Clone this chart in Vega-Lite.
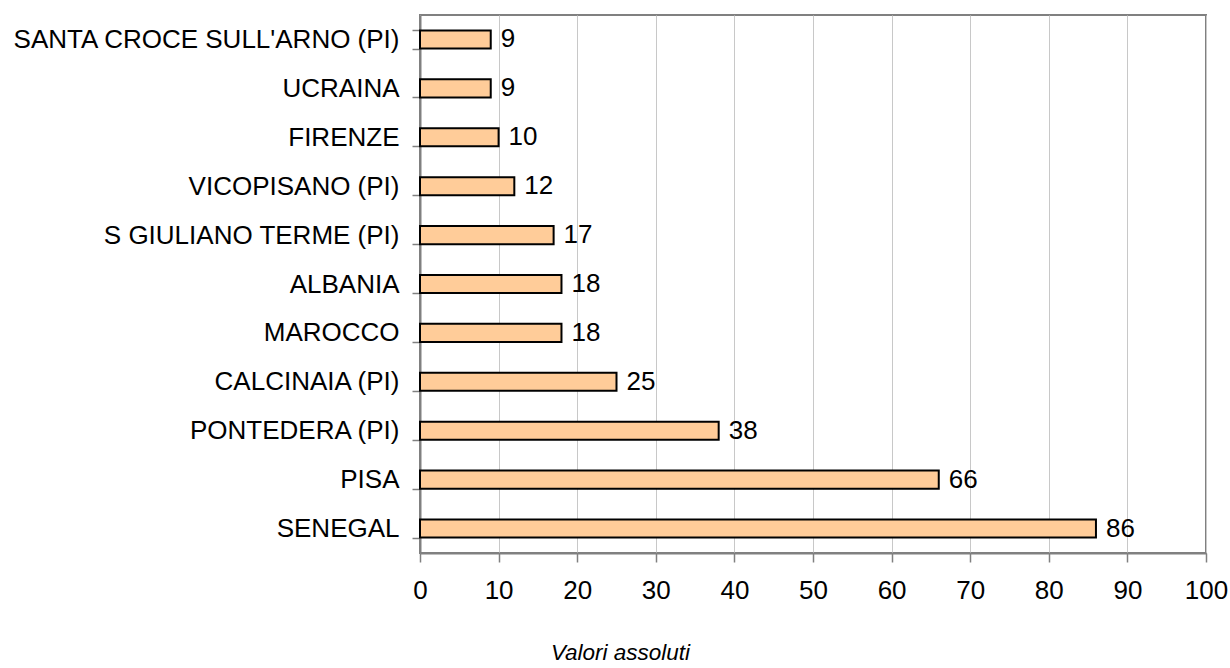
{
  "$schema": "https://vega.github.io/schema/vega-lite/v6.json",
  "autosize": "none",
  "padding": {"left": 420, "top": 15, "right": 24, "bottom": 115},
  "width": 786,
  "height": 538,
  "background": "white",
  "config": {
    "font": "Liberation Sans",
    "view": {"stroke": "#808080", "strokeWidth": 2}
  },
  "data": {
    "values": [
      {"luogo": "SANTA CROCE SULL'ARNO (PI)", "valore": 9},
      {"luogo": "UCRAINA", "valore": 9},
      {"luogo": "FIRENZE", "valore": 10},
      {"luogo": "VICOPISANO (PI)", "valore": 12},
      {"luogo": "S GIULIANO TERME (PI)", "valore": 17},
      {"luogo": "ALBANIA", "valore": 18},
      {"luogo": "MAROCCO", "valore": 18},
      {"luogo": "CALCINAIA (PI)", "valore": 25},
      {"luogo": "PONTEDERA (PI)", "valore": 38},
      {"luogo": "PISA", "valore": 66},
      {"luogo": "SENEGAL", "valore": 86}
    ]
  },
  "encoding": {
    "y": {
      "field": "luogo",
      "type": "nominal",
      "sort": null,
      "scale": {"paddingInner": 0.63, "paddingOuter": 0.315},
      "axis": {
        "title": null,
        "tickBand": "extent",
        "domainColor": "#808080",
        "domainWidth": 2,
        "tickColor": "#808080",
        "tickWidth": 1.5,
        "tickSize": 8,
        "labelFontSize": 26,
        "labelColor": "black",
        "labelPadding": 13,
        "labelLimit": 500,
        "labelExpr": "(datum.value == 'ALBANIA' || datum.value == 'MAROCCO' || datum.value == 'PISA' || datum.value == 'SENEGAL') ? datum.value + '\u00a0' : datum.value"
      }
    },
    "x": {
      "field": "valore",
      "type": "quantitative",
      "scale": {"domain": [0, 100], "nice": false},
      "axis": {
        "values": [0, 10, 20, 30, 40, 50, 60, 70, 80, 90, 100],
        "title": "Valori assoluti",
        "titleFontStyle": "italic",
        "titleFontWeight": "normal",
        "titleFontSize": 22.5,
        "titleColor": "black",
        "titleX": 200,
        "titleY": 99,
        "titleBaseline": "middle",
        "titleAlign": "center",
        "grid": true,
        "gridColor": "#c8c8c8",
        "gridWidth": 1,
        "domainColor": "#808080",
        "domainWidth": 2,
        "tickColor": "#808080",
        "tickWidth": 1.5,
        "tickSize": 9,
        "labelFontSize": 26,
        "labelColor": "black",
        "labelPadding": 15,
        "labelFlush": false
      }
    }
  },
  "layer": [
    {
      "mark": {"type": "bar", "fill": "#FFCC99", "stroke": "black", "strokeWidth": 2}
    },
    {
      "mark": {"type": "text", "align": "left", "baseline": "middle", "dx": 10, "fontSize": 26, "color": "black"},
      "encoding": {"text": {"field": "valore", "type": "quantitative"}}
    }
  ]
}
